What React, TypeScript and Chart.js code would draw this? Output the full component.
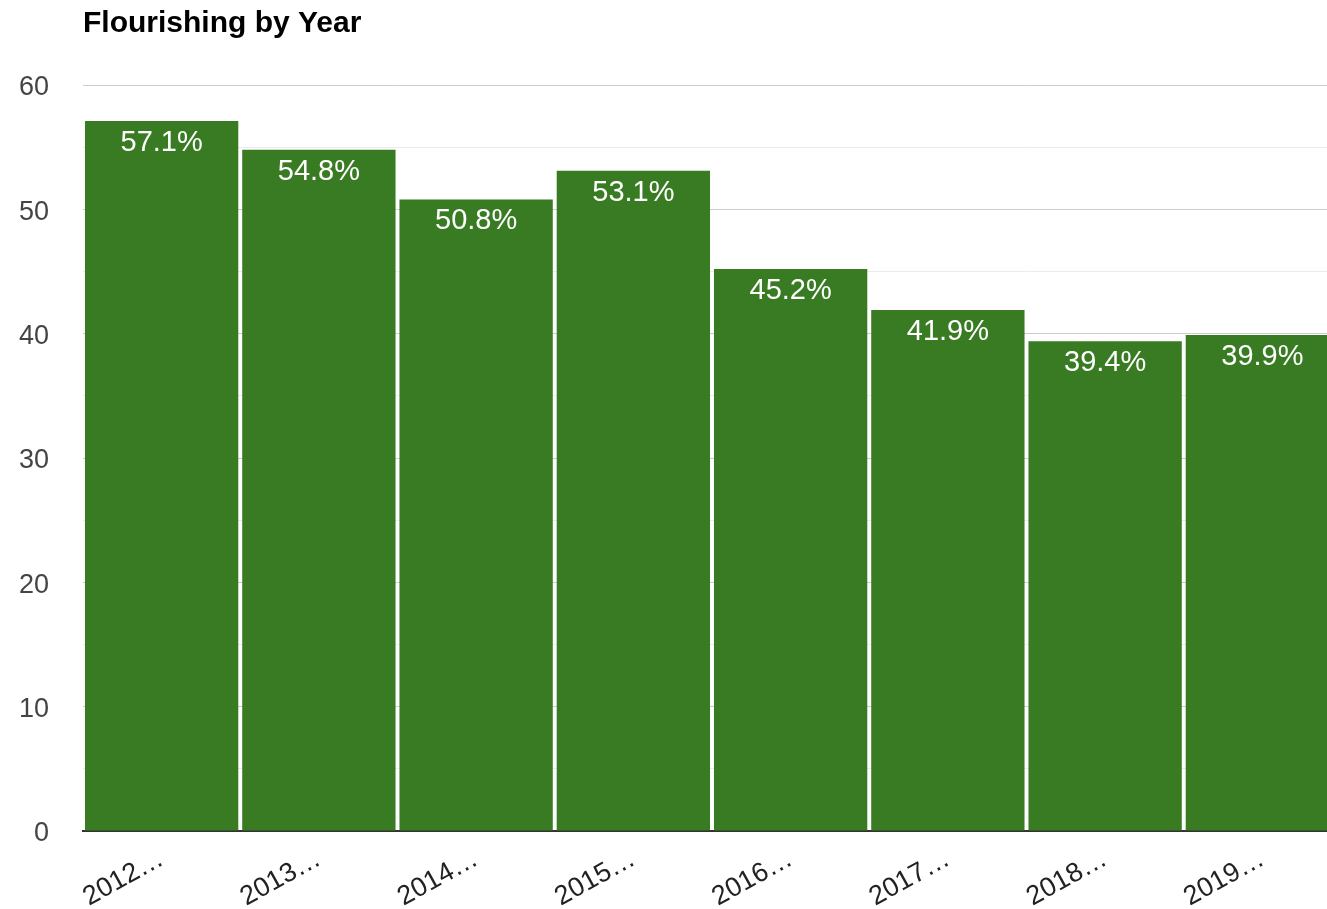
import React, { useEffect, useRef } from "react";
import { Chart, registerables } from "chart.js";

Chart.register(...registerables);

const categories = ["2012…", "2013…", "2014…", "2015…", "2016…", "2017…", "2018…", "2019…"];
const flourishing = [57.1, 54.8, 50.8, 53.1, 45.2, 41.9, 39.4, 39.9];
const yTicks = [0, 10, 20, 30, 40, 50, 60];
const chartTitle = "Flourishing by Year";

const FONT = "'Liberation Sans', Arial, Helvetica, sans-serif";

const titlePlugin = {
  id: "customTitle",
  afterDraw(chart: any) {
    const ctx = chart.ctx;
    ctx.save();
    ctx.font = `bold 30px ${FONT}`;
    ctx.fillStyle = "#000";
    ctx.textAlign = "left";
    ctx.textBaseline = "alphabetic";
    ctx.fillText(chartTitle, chart.chartArea.left, 32);
    ctx.restore();
  },
};

const labelPlugin = {
  id: "barLabels",
  afterDatasetsDraw(chart: any) {
    const ctx = chart.ctx;
    const meta = chart.getDatasetMeta(0);
    ctx.save();
    ctx.font = `29px ${FONT}`;
    ctx.fillStyle = "#fff";
    ctx.textAlign = "center";
    ctx.textBaseline = "middle";
    meta.data.forEach((bar: any, i: number) => {
      const v = chart.data.datasets[0].data[i];
      ctx.fillText(v.toFixed(1) + "%", bar.x, bar.y + 22);
    });
    ctx.restore();
  },
};

export default function App() {
  const ref = useRef<HTMLCanvasElement>(null);
  useEffect(() => {
    if (!ref.current) return;
    const chart = new Chart(ref.current, {
      type: "bar",
      data: {
        labels: categories,
        datasets: [
          {
            data: flourishing,
            backgroundColor: "#397b22",
            barPercentage: 0.975,
            categoryPercentage: 1,
          },
        ],
      },
      options: {
        animation: false,
        responsive: false,
        maintainAspectRatio: false,
        layout: { padding: { top: 85, right: 0, left: 0, bottom: 0 } },
        plugins: {
          legend: { display: false },
          title: { display: false },
          tooltip: { enabled: false },
        },
        scales: {
          x: {
            z: 1,
            grid: { display: false },
            border: { display: true, color: "#333", width: 2 },
            ticks: {
              autoSkip: false,
              maxRotation: 29,
              minRotation: 29,
              color: "#222",
              padding: 4,
              font: { family: FONT, size: 27 },
            },
            afterFit(scale: any) {
              scale.height = 78;
            },
          },
          y: {
            min: 0,
            max: 60,
            border: { display: false },
            grid: {
              drawTicks: false,
              color: (c: any) =>
                c.tick && c.tick.value % 10 === 0 ? "#cccccc" : "#ebebeb",
              lineWidth: 1,
            },
            afterBuildTicks(scale: any) {
              const t: any[] = [];
              for (let v = 0; v <= 60; v += 5) t.push({ value: v });
              scale.ticks = t;
            },
            ticks: {
              color: "#444",
              padding: 34,
              labelOffset: 3,
              font: { family: FONT, size: 27 },
              callback: (v: any) => (yTicks.includes(Number(v)) ? String(v) : ""),
            },
            afterFit(scale: any) {
              scale.width = 83;
            },
          },
        },
      },
      plugins: [titlePlugin, labelPlugin],
    });
    return () => chart.destroy();
  }, []);
  return (
    <div
      style={{
        position: "fixed",
        left: 0,
        top: 0,
        width: 1327,
        height: 909,
        overflow: "hidden",
        background: "#fff",
      }}
    >
      <canvas ref={ref} width={1341} height={909} style={{ display: "block" }} />
    </div>
  );
}
